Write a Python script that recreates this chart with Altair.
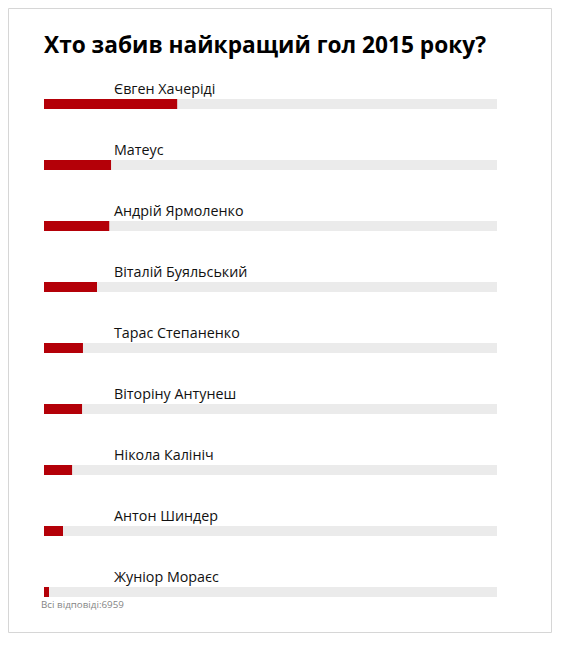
import altair as alt
import pandas as pd

title_text = "Хто забив найкращий гол 2015 року?"
names = [
    "Євген Хачеріді",
    "Матеус",
    "Андрій Ярмоленко",
    "Віталій Буяльський",
    "Тарас Степаненко",
    "Віторіну Антунеш",
    "Нікола Калініч",
    "Антон Шиндер",
    "Жуніор Мораєс",
]
shares = [29.4, 14.8, 14.4, 11.7, 8.6, 8.4, 6.2, 4.2, 1.1]
total_label = "Всі відповіді:6959"

W, H = 543, 624
FONT = "Open Sans"

df = pd.DataFrame({
    "name": names,
    "share": shares,
    "rank": list(range(1, len(names) + 1)),
    "zero": [0] * len(names),
    "full": [100] * len(names),
})

xs = alt.Scale(domain=[0, 100], range=[36, 489])
ys = alt.Scale(domain=[1, 9], range=[96, 584])

base = alt.Chart(df)

track = base.mark_rule(strokeWidth=10, color="#ebebeb", strokeCap="butt").encode(
    x=alt.X("zero:Q", scale=xs, axis=None),
    x2="full:Q",
    y=alt.Y("rank:Q", scale=ys, axis=None),
)

bars = base.mark_rule(strokeWidth=10, color="#b40008", strokeCap="butt").encode(
    x=alt.X("zero:Q", scale=xs, axis=None),
    x2="share:Q",
    y=alt.Y("rank:Q", scale=ys, axis=None),
    tooltip=["name:N", "share:Q"],
)

labels = base.mark_text(
    align="left", baseline="alphabetic", dy=-10, fontSize=14.3, font=FONT, color="#111111"
).encode(
    x=alt.value(106),
    y=alt.Y("rank:Q", scale=ys, axis=None),
    text="name:N",
)

title = alt.Chart(pd.DataFrame({"t": [title_text]})).mark_text(
    align="left", baseline="alphabetic", fontSize=22.7, fontWeight="bold", font=FONT, color="#000000"
).encode(x=alt.value(36), y=alt.value(45), text="t:N")

footer = alt.Chart(pd.DataFrame({"t": [total_label]})).mark_text(
    align="left", baseline="alphabetic", fontSize=9.8, font=FONT, color="#858585"
).encode(x=alt.value(33), y=alt.value(600), text="t:N")

chart = (
    alt.layer(track, bars, labels, title, footer)
    .properties(
        width=W,
        height=H,
        padding={"left": 0, "top": 0, "right": 2, "bottom": 2},
        autosize="none",
    )
    .configure_view(stroke="#d6d6d6", strokeWidth=1)
)

chart.save("out.html", embed_options={"renderer": "svg", "actions": False})
